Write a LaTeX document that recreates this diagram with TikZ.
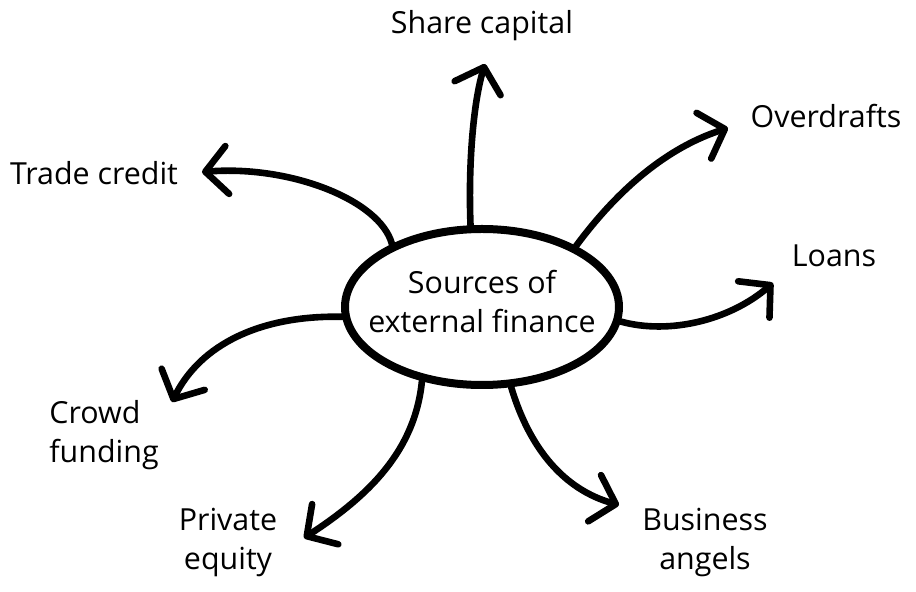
\documentclass[tikz,border=0pt]{standalone}
\usepackage{fontspec}
\setmainfont{Open Sans}
\usetikzlibrary{arrows.meta}
\usetikzlibrary{shapes.geometric}

\tikzset{
    label/.style = {font=\fontsize{15.2}{19.5}\selectfont, inner sep=0pt},
    branch/.style = {line width=3.3pt, line cap=round,
        -{Straight Barb[length=11pt, width=24pt, round]}}
}

\begin{document}
\begin{tikzpicture}[x=0.5pt, y=-0.5pt]
            \useasboundingbox (0,0) rectangle (916,592);
            \node[ellipse, draw, line width=4pt, minimum width=137pt, minimum height=78pt,
                inner sep=0pt] (src) at (482,307) {};
            \node[label, align=center] (srcText) at (482,302)
                {Sources of\\external finance};

            \node[label] (share) at (482,26) {Share capital};
            \node[label] (over) at (826,116) {Overdrafts};
            \node[label] (trade) at (94,173) {Trade credit};
            \node[label] (loans) at (834,256) {Loans};
            \node[label, align=left] (crowd) at (104,435) {Crowd\\funding};
            \node[label, align=center] (priv) at (228,542) {Private\\equity};
            \node[label, align=center] (bus) at (705,542) {Business\\angels};

            \coordinate (tipShare) at (485,64);
            \coordinate (tipOver) at (728,128);
            \coordinate (tipLoans) at (773,283);
            \coordinate (tipTrade) at (202,172);
            \coordinate (tipCrowd) at (172,402);
            \coordinate (tipPriv) at (304,538);
            \coordinate (tipBus) at (619,505);

            % arrows out of the ellipse
            \draw[branch] (src.98) .. controls (468,160) and (474,100) .. (tipShare);
            \draw[branch] (src.33) .. controls (625,180) and (675,145) .. (tipOver);
            \draw[branch] (src.-6) .. controls (670,335) and (730,320) .. (tipLoans);
            \draw[branch] (src.145) .. controls (380,200) and (290,165) .. (tipTrade);
            \draw[branch] (src.184) .. controls (260,315) and (200,345) .. (tipCrowd);
            \draw[branch] (src.231) .. controls (415,450) and (370,495) .. (tipPriv);
            \draw[branch] (src.290) .. controls (530,450) and (565,490) .. (tipBus);
        \end{tikzpicture}
\end{document}
